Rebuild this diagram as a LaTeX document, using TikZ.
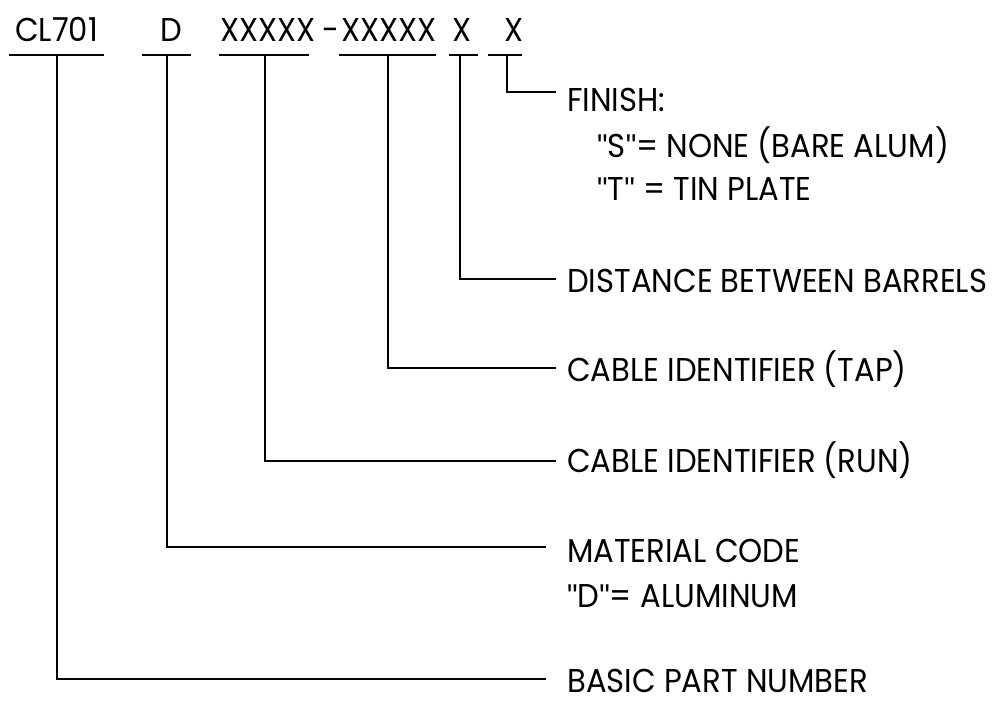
\documentclass[tikz,border=0pt]{standalone}
\usepackage{fontspec}
\setmainfont[FakeStretch=0.93]{Poppins}
\newfontfamily\qf[FakeStretch=0.9]{Liberation Sans}
\newcommand{\dq}{{\qf\char"0022}}
\begin{document}
\begin{tikzpicture}[x=1pt,y=-1pt,
  lbl/.style={anchor=base west, inner sep=0pt, font=\fontsize{33}{38}\selectfont},
  conn/.style={line width=1.8pt, line cap=rect}]
\useasboundingbox (0,0) rectangle (996,702);
% part number fields
\node[lbl] (p1) at (15,41) {CL701};
\node[lbl] (p2) at (160,41) {D};
\node[lbl] (p3) at (220,41) {XXXXX};
\node[lbl] (p4) at (322,41) {-};
\node[lbl] (p5) at (341,41) {XXXXX};
\node[lbl] (p6) at (452,41) {X};
\node[lbl] (p7) at (504,41) {X};
% underlines
\draw[conn] (10,55) -- (103,55);
\draw[conn] (143,55) -- (190,55);
\draw[conn] (220,55) -- (308,55);
\draw[conn] (340,55) -- (435,55);
\draw[conn] (450,55) -- (477,55);
\draw[conn] (489,55) -- (521,55);
\coordinate (u1) at (57,55);
\coordinate (u2) at (167,55);
\coordinate (u3) at (265,55);
\coordinate (u4) at (388,55);
\coordinate (u5) at (460,55);
\coordinate (u6) at (507,55);
% labels
\node[lbl] (finish) at (567,111) {FINISH:};
\node[lbl] (fs) at (597,157) {\dq S\dq= NONE (BARE ALUM)};
\node[lbl] (ft) at (597,200) {\dq T\dq\ = TIN PLATE};
\node[lbl] (dist) at (567,292) {DISTANCE BETWEEN BARRELS};
\node[lbl] (tap) at (567,381) {CABLE IDENTIFIER (TAP)};
\node[lbl] (run) at (567,472) {CABLE IDENTIFIER (RUN)};
\node[lbl] (mat) at (567,562) {MATERIAL CODE};
\node[lbl] (matd) at (567,607) {\dq D\dq= ALUMINUM};
\node[lbl] (basic) at (567,692) {BASIC PART NUMBER};
% line ends
\coordinate (e6) at (555,92);
\coordinate (e5) at (555,279);
\coordinate (e4) at (555,368);
\coordinate (e3) at (555,461);
\coordinate (e2) at (545,547);
\coordinate (e1) at (545,679);
% connectors
\draw[conn] (u6) |- (e6);
\draw[conn] (u5) |- (e5);
\draw[conn] (u4) |- (e4);
\draw[conn] (u3) |- (e3);
\draw[conn] (u2) |- (e2);
\draw[conn] (u1) |- (e1);
\end{tikzpicture}
\end{document}
